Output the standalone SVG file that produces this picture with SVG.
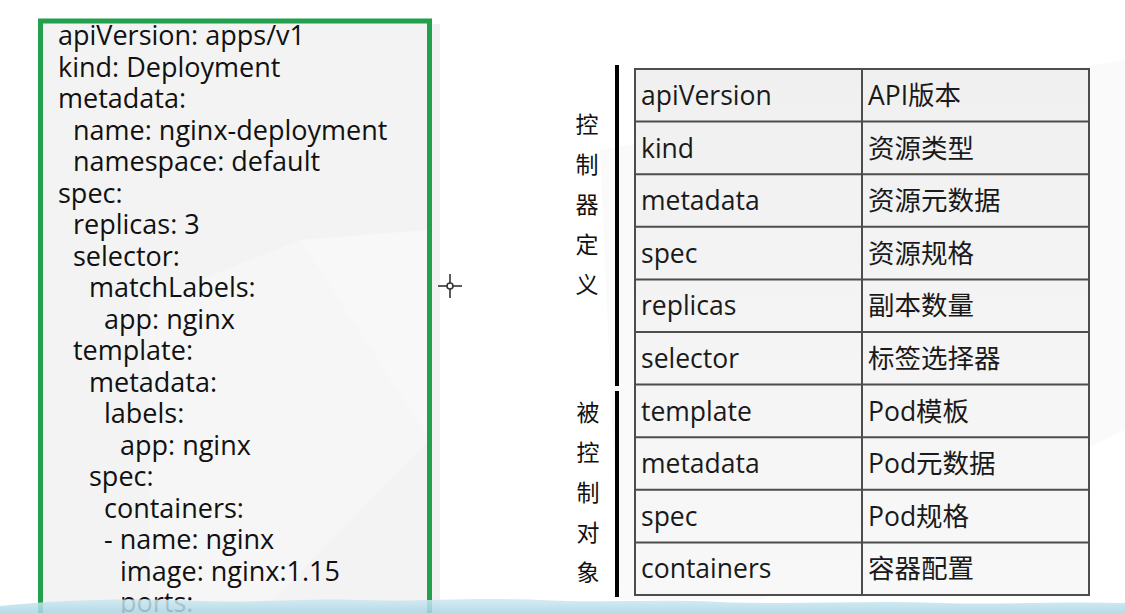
<svg xmlns="http://www.w3.org/2000/svg" width="1125" height="613" viewBox="0 0 1125 613">
<style>
.code{font-family:"Open Sans","Noto Sans",sans-serif;font-size:27px;fill:#111}
.cell{font-family:"Open Sans","Noto Sans CJK SC",sans-serif;font-size:26.5px;fill:#1a1a1a}
.vlab{font-family:"Noto Sans CJK SC",sans-serif;font-size:23px;fill:#111;text-anchor:middle}
.grid{stroke:#4d4d4d;stroke-width:2;fill:none}
.bar{fill:#000}
</style>
<defs>
<linearGradient id="rowg" x1="0" y1="0" x2="0" y2="1">
<stop offset="0" stop-color="#f0f0f0"/>
<stop offset="1" stop-color="#f8f8f8"/>
</linearGradient>
<linearGradient id="water" x1="0" y1="0" x2="0" y2="1">
<stop offset="0" stop-color="#cfe8f0"/>
<stop offset="1" stop-color="#a9d6e6"/>
</linearGradient>
</defs>
<rect width="1125" height="613" fill="#ffffff"/>
<g id="background">
<polygon points="600,150 1125,60 1125,430 760,600 620,600" fill="#fafafa"/>
<rect x="432" y="24" width="8" height="589" fill="#f1f1f1"/>
</g>
<g id="code-box">
<rect x="40.5" y="21" width="389" height="610" fill="#f3f3f3"/>
<polygon points="300,240 429,230 429,440" fill="#f8f8f8"/>
<polygon points="150,300 300,240 429,440 260,613 150,613" fill="#f6f6f6"/>
<rect x="40.5" y="21" width="389" height="610" fill="none" stroke="#22a04e" stroke-width="5"/>
<text class="code" x="58" y="45">apiVersion: apps/v1</text>
<text class="code" x="58" y="76.5">kind: Deployment</text>
<text class="code" x="58" y="108">metadata:</text>
<text class="code" x="73" y="139.5">name: nginx-deployment</text>
<text class="code" x="73" y="171">namespace: default</text>
<text class="code" x="58" y="202.5">spec:</text>
<text class="code" x="73" y="234">replicas: 3</text>
<text class="code" x="73" y="265.5">selector:</text>
<text class="code" x="89" y="297">matchLabels:</text>
<text class="code" x="104" y="328.5">app: nginx</text>
<text class="code" x="73" y="360">template:</text>
<text class="code" x="89" y="391.5">metadata:</text>
<text class="code" x="104" y="423">labels:</text>
<text class="code" x="120" y="454.5">app: nginx</text>
<text class="code" x="89" y="486">spec:</text>
<text class="code" x="104" y="517.5">containers:</text>
<text class="code" x="104" y="549">- name: nginx</text>
<text class="code" x="120" y="580.5">image: nginx:1.15</text>
<text class="code" x="120" y="612">ports:</text>
</g>
<g id="cursor" stroke="#333" stroke-width="1.6">
<line x1="438" y1="286" x2="462" y2="286"/>
<line x1="450" y1="274" x2="450" y2="298"/>
<circle cx="450" cy="286" r="3" fill="#fff"/>
</g>
<g id="table">
<rect x="635" y="69" width="454" height="526" fill="url(#rowg)"/>
<g id="row-apiVersion"><text class="cell" x="641" y="105">apiVersion</text><text class="cell" x="868" y="105">API版本</text></g>
<g id="row-kind"><text class="cell" x="641" y="157.6">kind</text><text class="cell" x="868" y="157.6">资源类型</text></g>
<g id="row-metadata"><text class="cell" x="641" y="210.2">metadata</text><text class="cell" x="868" y="210.2">资源元数据</text></g>
<g id="row-spec"><text class="cell" x="641" y="262.8">spec</text><text class="cell" x="868" y="262.8">资源规格</text></g>
<g id="row-replicas"><text class="cell" x="641" y="315.4">replicas</text><text class="cell" x="868" y="315.4">副本数量</text></g>
<g id="row-selector"><text class="cell" x="641" y="368">selector</text><text class="cell" x="868" y="368">标签选择器</text></g>
<g id="row-template"><text class="cell" x="641" y="420.6">template</text><text class="cell" x="868" y="420.6">Pod模板</text></g>
<g id="row-metadata2"><text class="cell" x="641" y="473.2">metadata</text><text class="cell" x="868" y="473.2">Pod元数据</text></g>
<g id="row-spec2"><text class="cell" x="641" y="525.8">spec</text><text class="cell" x="868" y="525.8">Pod规格</text></g>
<g id="row-containers"><text class="cell" x="641" y="578.4">containers</text><text class="cell" x="868" y="578.4">容器配置</text></g>
<g class="grid">
<rect x="635" y="69" width="454" height="526"/>
<line x1="862" y1="69" x2="862" y2="595"/>
<path d="M635 121.6H1089M635 174.2H1089M635 226.8H1089M635 279.4H1089M635 332H1089M635 384.6H1089M635 437.2H1089M635 489.8H1089M635 542.4H1089"/>
</g>
</g>
<g id="connectors">
<rect class="bar" x="615" y="65" width="4" height="321"/>
<rect class="bar" x="615" y="391" width="4" height="206"/>
</g>
<g id="label-controller">
<text class="vlab" x="587" y="133">控</text>
<text class="vlab" x="587" y="173">制</text>
<text class="vlab" x="587" y="213">器</text>
<text class="vlab" x="587" y="253">定</text>
<text class="vlab" x="587" y="293">义</text>
</g>
<g id="label-controlled">
<text class="vlab" x="588" y="421">被</text>
<text class="vlab" x="588" y="461">控</text>
<text class="vlab" x="588" y="501">制</text>
<text class="vlab" x="588" y="541">对</text>
<text class="vlab" x="588" y="581">象</text>
</g>
<g id="water">
<path d="M0 606 C60 600 120 598 200 601 C260 603 300 598 360 600 C420 602 470 597 540 600 C600 603 660 599 720 602 C800 605 860 600 940 603 C1000 605 1060 601 1125 603 L1125 613 L0 613 Z" fill="url(#water)" opacity="0.85"/>
</g>
</svg>
